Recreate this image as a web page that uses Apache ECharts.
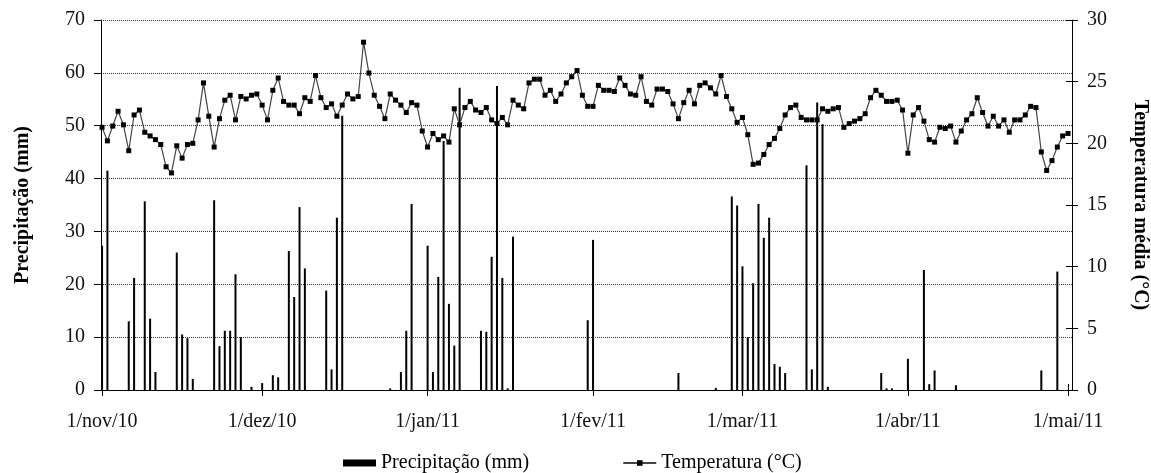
<!DOCTYPE html>
<html>
<head>
<meta charset="utf-8">
<script src="https://cdn.jsdelivr.net/npm/echarts@6/dist/echarts.min.js"></script>
<style>
html,body{margin:0;padding:0;background:#fff;}
#chart{width:1151px;height:473px;}
</style>
</head>
<body>
<div id="chart"></div>
<script>
// Day index 0 = 1/nov/10 ... 181 = 1/mai/11
const tickDays = [0, 30, 61, 92, 120, 151, 181];
const tickLabels = ['1/nov/10', '1/dez/10', '1/jan/11', '1/fev/11', '1/mar/11', '1/abr/11', '1/mai/11'];

// Mean daily temperature (°C)
const temperature = [
  21.3, 20.2, 21.4, 22.6, 21.5, 19.4, 22.3, 22.7, 20.9, 20.6,
  20.3, 19.9, 18.1, 17.6, 19.8, 18.8, 19.9, 20.0, 21.9, 24.9,
  22.2, 19.7, 22.0, 23.5, 23.9, 21.9, 23.8, 23.6, 23.9, 24.0,
  23.1, 21.9, 24.3, 25.3, 23.4, 23.1, 23.1, 22.4, 23.7, 23.4,
  25.5, 23.7, 22.9, 23.2, 22.2, 23.1, 24.0, 23.6, 23.8, 28.2,
  25.7, 23.9, 23.0, 22.0, 24.0, 23.5, 23.1, 22.5, 23.3, 23.1,
  21.0, 19.7, 20.8, 20.3, 20.6, 20.1, 22.8, 21.5, 22.9, 23.4,
  22.7, 22.5, 22.9, 21.9, 21.6, 22.1, 21.5, 23.5, 23.1, 22.8,
  24.9, 25.2, 25.2, 23.9, 24.3, 23.4, 24.0, 24.9, 25.4, 25.9,
  23.9, 23.0, 23.0, 24.7, 24.3, 24.3, 24.2, 25.3, 24.7, 24.0,
  23.9, 25.4, 23.4, 23.1, 24.4, 24.4, 24.2, 23.2, 22.0, 23.3,
  24.3, 23.2, 24.7, 24.9, 24.5, 24.0, 25.5, 23.8, 22.8, 21.7,
  22.1, 20.7, 18.3, 18.4, 19.1, 19.9, 20.4, 21.2, 22.3, 22.9,
  23.1, 22.1, 21.9, 21.9, 21.9, 22.8, 22.6, 22.8, 22.9, 21.3,
  21.6, 21.8, 22.0, 22.4, 23.7, 24.3, 23.9, 23.4, 23.4, 23.5,
  22.7, 19.2, 22.3, 22.9, 21.8, 20.3, 20.1, 21.3, 21.2, 21.4,
  20.1, 21.0, 21.9, 22.4, 23.7, 22.5, 21.4, 22.2, 21.4, 21.9,
  20.9, 21.9, 21.9, 22.3, 23.0, 22.9, 19.3, 17.8, 18.6, 19.7,
  20.6, 20.8
];

// Daily precipitation (mm)
const precipitation = [
  27.3, 41.5, 0, 0, 0, 13.0, 21.2, 0, 35.7, 13.5,
  3.4, 0, 0, 0, 26.0, 10.5, 9.8, 2.1, 0, 0,
  0, 35.9, 8.3, 11.2, 11.2, 21.9, 10.0, 0, 0.6, 0,
  1.3, 0, 2.8, 2.4, 0, 26.3, 17.6, 34.6, 23.0, 0,
  0, 0, 18.8, 3.9, 32.6, 51.9, 0, 0, 0, 0,
  0, 0, 0, 0, 0.3, 0, 3.4, 11.2, 35.2, 0,
  0, 27.3, 3.4, 21.4, 47.1, 16.3, 8.4, 57.2, 0, 0,
  0, 11.2, 11.0, 25.2, 57.5, 21.2, 0.3, 29.0, 0, 0,
  0, 0, 0, 0, 0, 0, 0, 0, 0, 0,
  0, 13.2, 28.4, 0, 0, 0, 0, 0, 0, 0,
  0, 0, 0, 0, 0, 0, 0, 0, 3.2, 0,
  0, 0, 0, 0, 0, 0.4, 0, 0, 36.6, 34.9,
  23.4, 10.0, 20.2, 35.2, 28.8, 32.6, 4.9, 4.4, 3.2, 0,
  0, 0, 42.5, 3.9, 54.4, 50.3, 0.6, 0, 0, 0,
  0, 0, 0, 0, 0, 0, 3.2, 0.3, 0.3, 0,
  0, 5.9, 0, 0, 22.7, 1.1, 3.7, 0, 0, 0,
  0.9, 0, 0, 0, 0, 0, 0, 0, 0, 0,
  0, 0, 0, 0, 0, 0, 3.7, 0, 0, 22.4,
  0, 0
];

const serif = '"Liberation Serif", "Times New Roman", serif';
const chart = echarts.init(document.getElementById('chart'), null, {renderer: 'canvas'});

const rainData = precipitation.map((v, i) => [i, v]);
const tempData = temperature.map((v, i) => [i, v]);

const gridRect = {left: 101, right: 79, top: 20, bottom: 83, containLabel: false, outerBoundsMode: 'none'};
const xRange = {type: 'value', min: -0.2, max: 181.75, splitLine: {show: false}};

chart.setOption({
  animation: false,
  backgroundColor: '#fff',
  grid: [Object.assign({}, gridRect), Object.assign({}, gridRect)],
  legend: {
    left: 343,
    top: 453,
    padding: 0,
    itemWidth: 33,
    itemHeight: 7,
    itemGap: 93,
    textStyle: {fontFamily: serif, fontSize: 20, color: '#000'},
    data: [
      {name: 'Precipitação (mm)', icon: 'rect'},
      {name: 'Temperatura (°C)'}
    ]
  },
  xAxis: [
    Object.assign({}, xRange, {
      gridIndex: 0,
      position: 'bottom',
      axisLine: {show: true, onZero: false, lineStyle: {color: '#000', width: 1}},
      axisTick: {show: true, length: 6, lineStyle: {color: '#000'}, customValues: tickDays},
      axisLabel: {
        show: true, margin: 22, fontFamily: serif, fontSize: 20, color: '#111',
        customValues: tickDays,
        formatter: function (v) { const i = tickDays.indexOf(Math.round(v)); return i >= 0 ? tickLabels[i] : ''; }
      }
    }),
    Object.assign({}, xRange, {
      gridIndex: 1,
      position: 'bottom',
      axisLine: {show: false, onZero: false},
      axisTick: {show: true, inside: true, length: 6, lineStyle: {color: '#000'}, customValues: tickDays},
      axisLabel: {show: false}
    })
  ],
  yAxis: [
    {
      gridIndex: 0,
      type: 'value', min: 0, max: 70, interval: 10, position: 'left',
      name: 'Precipitação (mm)', nameLocation: 'middle', nameGap: 68, nameRotate: 90,
      nameTextStyle: {fontFamily: serif, fontSize: 20, fontWeight: 'bold', color: '#000'},
      axisLine: {show: true, onZero: false, lineStyle: {color: '#000', width: 1}},
      axisTick: {show: true, length: 7, lineStyle: {color: '#000'}},
      axisLabel: {margin: 16, fontFamily: serif, fontSize: 20, color: '#111'},
      splitLine: {show: true, lineStyle: {color: '#333', type: [1, 1], width: 1}}
    },
    {
      gridIndex: 0,
      type: 'value', min: 0, max: 30, interval: 5, position: 'right',
      name: 'Temperatura média (°C)', nameLocation: 'middle', nameGap: 58, nameRotate: -90,
      nameTextStyle: {fontFamily: serif, fontSize: 20, fontWeight: 'bold', color: '#000'},
      axisLine: {show: true, onZero: false, lineStyle: {color: '#000', width: 1}},
      axisTick: {show: true, length: 6, lineStyle: {color: '#000'}},
      axisLabel: {margin: 15, fontFamily: serif, fontSize: 20, color: '#111'},
      splitLine: {show: false}
    },
    {
      gridIndex: 1,
      type: 'value', min: 0, max: 30, interval: 5, position: 'right',
      axisLine: {show: false, onZero: false},
      axisTick: {show: true, inside: true, length: 6, lineStyle: {color: '#000'}},
      axisLabel: {show: false},
      splitLine: {show: false}
    }
  ],
  series: [
    {
      name: 'Precipitação (mm)',
      type: 'bar',
      xAxisIndex: 0,
      yAxisIndex: 0,
      data: rainData,
      barWidth: 2,
      itemStyle: {color: '#000'},
      z: 2
    },
    {
      name: 'Temperatura (°C)',
      type: 'line',
      xAxisIndex: 0,
      yAxisIndex: 1,
      data: tempData,
      symbol: 'rect',
      symbolSize: 5,
      showAllSymbol: true,
      itemStyle: {color: '#000'},
      lineStyle: {color: '#444', width: 1.2},
      z: 3
    }
  ]
});
</script>
</body>
</html>
